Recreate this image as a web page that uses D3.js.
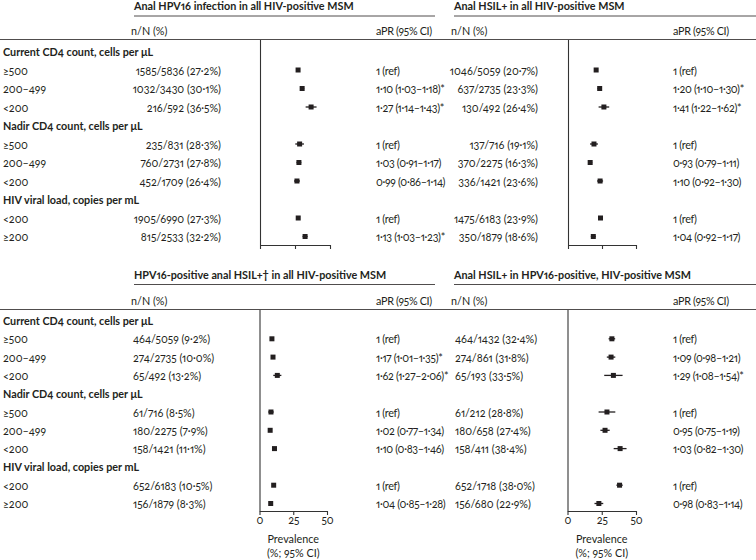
<!DOCTYPE html>
<html><head><meta charset="utf-8">
<script src="https://cdn.jsdelivr.net/npm/d3@7"></script>
<style>
html,body{margin:0;padding:0;background:#fff;overflow:hidden;}
svg{display:block;}
svg text{font-family:Lato,"Open Sans",sans-serif;fill:#231f20;font-size:10.8px;
  font-variant-numeric:oldstyle-nums proportional-nums;font-feature-settings:"onum" 1,"pnum" 1;}
svg text.apr{letter-spacing:-0.3px;}
</style></head><body>
<svg id="chart" width="756" height="560"></svg>
<script>
// ---------- DATA ----------
const groupLabels = ["Current CD4 count, cells per μL", "Nadir CD4 count, cells per μL", "HIV viral load, copies per mL"];
const levelLabels = [["≥500", "200–499", "<200"], ["≥500", "200–499", "<200"], ["<200", "≥200"]];
const xTicks = [0, 25, 50];
const axisTitle = ["Prevalence", "(%; 95% CI)"];
const colHeaders = ["n/N (%)", "aPR (95% CI)"];

const titleA = "Anal HPV16 infection in all HIV-positive MSM";
const nnA = ["1585/5836 (27·2%)", "1032/3430 (30·1%)", "216/592 (36·5%)", "235/831 (28·3%)", "760/2731 (27·8%)", "452/1709 (26·4%)", "1905/6990 (27·3%)", "815/2533 (32·2%)"];
const prevA = [27.2, 30.1, 36.5, 28.3, 27.8, 26.4, 27.3, 32.2];
const loA = [26.1, 28.6, 32.6, 25.2, 26.1, 24.3, 26.3, 30.4];
const hiA = [28.3, 31.6, 40.4, 31.4, 29.5, 28.5, 28.3, 34.0];
const aprA = ["1 (ref)", "1·10 (1·03–1·18)*", "1·27 (1·14–1·43)*", "1 (ref)", "1·03 (0·91–1·17)", "0·99 (0·86–1·14)", "1 (ref)", "1·13 (1·03–1·23)*"];

const titleB = "Anal HSIL+ in all HIV-positive MSM";
const nnB = ["1046/5059 (20·7%)", "637/2735 (23·3%)", "130/492 (26·4%)", "137/716 (19·1%)", "370/2275 (16·3%)", "336/1421 (23·6%)", "1475/6183 (23·9%)", "350/1879 (18·6%)"];
const prevB = [20.7, 23.3, 26.4, 19.1, 16.3, 23.6, 23.9, 18.6];
const loB = [19.6, 21.7, 22.5, 16.2, 14.8, 21.4, 22.8, 16.8];
const hiB = [21.8, 24.9, 30.3, 22.0, 17.8, 25.8, 25.0, 20.4];
const aprB = ["1 (ref)", "1·20 (1·10–1·30)*", "1·41 (1·22–1·62)*", "1 (ref)", "0·93 (0·79–1·11)", "1·10 (0·92–1·30)", "1 (ref)", "1·04 (0·92–1·17)"];

const titleC = "HPV16-positive anal HSIL+† in all HIV-positive MSM";
const nnC = ["464/5059 (9·2%)", "274/2735 (10·0%)", "65/492 (13·2%)", "61/716 (8·5%)", "180/2275 (7·9%)", "158/1421 (11·1%)", "652/6183 (10·5%)", "156/1879 (8·3%)"];
const prevC = [9.2, 10.0, 13.2, 8.5, 7.9, 11.1, 10.5, 8.3];
const loC = [8.4, 8.9, 10.2, 6.5, 6.8, 9.5, 9.7, 7.1];
const hiC = [10.0, 11.1, 16.2, 10.5, 9.0, 12.7, 11.3, 9.5];
const aprC = ["1 (ref)", "1·17 (1·01–1·35)*", "1·62 (1·27–2·06)*", "1 (ref)", "1·02 (0·77–1·34)", "1·10 (0·83–1·46)", "1 (ref)", "1·04 (0·85–1·28)"];

const titleD = "Anal HSIL+ in HPV16-positive, HIV-positive MSM";
const nnD = ["464/1432 (32·4%)", "274/861 (31·8%)", "65/193 (33·5%)", "61/212 (28·8%)", "180/658 (27·4%)", "158/411 (38·4%)", "652/1718 (38·0%)", "156/680 (22·9%)"];
const prevD = [32.4, 31.8, 33.5, 28.8, 27.4, 38.4, 38.0, 22.9];
const loD = [30.0, 28.7, 26.8, 22.7, 24.0, 33.7, 35.7, 19.7];
const hiD = [34.8, 34.9, 40.2, 34.9, 30.8, 43.1, 40.3, 26.1];
const aprD = ["1 (ref)", "1·09 (0·98–1·21)", "1·29 (1·08–1·54)*", "1 (ref)", "0·95 (0·75–1·19)", "1·03 (0·82–1·30)", "1 (ref)", "0·98 (0·83–1·14)"];

// ---------- LAYOUT ----------
const svg = d3.select("#chart");
const ink = "#231f20";

const rowItems = [];
groupLabels.forEach((g, gi) => {
  rowItems.push({type: "header", label: g});
  levelLabels[gi].forEach(l => rowItems.push({type: "level", label: l}));
});
const levelRowIdx = rowItems.map((r, i) => r.type === "level" ? i : -1).filter(i => i >= 0);

const blocks = [
  {titleY: 5.5, titleLineY: 16, headerY: 30.5, ruleY: 39.5, rows: [51.5, 236.5], axisY: 245, showTickLabels: false},
  {titleY: 274.5, titleLineY: 284.5, headerY: 300.5, ruleY: 309.5, rows: [320.5, 503.5], axisY: 511, showTickLabels: true}
];

const panels = [
  {block: 0, title: titleA, nn: nnA, prev: prevA, lo: loA, hi: hiA, apr: aprA, left: 134, lineEnd: 435, nnX: 221, nnAnchor: "end", aprX: 376, xr: [260, 330]},
  {block: 0, title: titleB, nn: nnB, prev: prevB, lo: loB, hi: hiB, apr: aprB, left: 454, lineEnd: 756, nnX: 538, nnAnchor: "end", aprX: 673, xr: [568, 636]},
  {block: 1, title: titleC, nn: nnC, prev: prevC, lo: loC, hi: hiC, apr: aprC, left: 134, lineEnd: 435, nnX: 133, nnAnchor: "start", aprX: 376, xr: [259.5, 327]},
  {block: 1, title: titleD, nn: nnD, prev: prevD, lo: loD, hi: hiD, apr: aprD, left: 454, lineEnd: 756, nnX: 455, nnAnchor: "start", aprX: 673, xr: [567.5, 636]}
];

blocks.forEach(b => {
  const y = d3.scalePoint().domain(d3.range(rowItems.length)).range(b.rows);
  b.y = y;
  svg.append("line").attr("x1", 0).attr("x2", 756).attr("y1", b.ruleY).attr("y2", b.ruleY)
    .attr("stroke", ink).attr("stroke-width", 0.8);
  svg.append("g").selectAll("text").data(rowItems).join("text")
    .attr("x", 3).attr("y", (d, i) => y(i)).attr("dominant-baseline", "central")
    .style("font-weight", d => d.type === "header" ? "bold" : "normal")
    .text(d => d.label);
});

panels.forEach(p => {
  const b = blocks[p.block];
  const y = b.y;
  const g = svg.append("g");
  g.append("text").attr("x", p.left).attr("y", b.titleY).attr("dominant-baseline", "central")
    .style("font-weight", "bold").text(p.title);
  g.append("line").attr("x1", p.left).attr("x2", p.lineEnd).attr("y1", b.titleLineY).attr("y2", b.titleLineY)
    .attr("stroke", ink).attr("stroke-width", 0.8);
  g.append("text").attr("x", p.left - 3).attr("y", b.headerY).attr("dominant-baseline", "central").text(colHeaders[0]);
  g.append("text").attr("class", "apr").attr("x", p.aprX).attr("y", b.headerY).attr("dominant-baseline", "central").text(colHeaders[1]);

  const x = d3.scaleLinear().domain([0, 50]).range(p.xr);

  const yAxisScale = d3.scaleLinear().domain([0, 1]).range([b.ruleY, b.axisY]);
  g.append("g").attr("transform", `translate(${p.xr[0]},0)`)
    .call(d3.axisLeft(yAxisScale).tickValues([]).tickSizeOuter(0))
    .call(s => s.select(".domain").attr("stroke", "#333").attr("stroke-width", 1.1));

  const ax = g.append("g").attr("transform", `translate(0,${b.axisY})`)
    .call(d3.axisBottom(x).tickValues(xTicks).tickSize(4).tickSizeOuter(0).tickFormat(d3.format("d")));
  ax.attr("font-family", null).attr("font-size", null);
  ax.select(".domain").attr("stroke", "#333").attr("stroke-width", 1.1);
  ax.selectAll(".tick line").attr("stroke", "#333").attr("stroke-width", 1.1);
  ax.selectAll(".tick text").attr("y", 5.5).attr("fill", ink);
  if (!b.showTickLabels) ax.selectAll(".tick text").remove();
  else {
    const cx = (p.xr[0] + p.xr[1]) / 2;
    g.append("text").attr("x", cx).attr("y", 538.5).attr("text-anchor", "middle").attr("dominant-baseline", "central").text(axisTitle[0]);
    g.append("text").attr("x", cx).attr("y", 552).attr("text-anchor", "middle").attr("dominant-baseline", "central").text(axisTitle[1]);
  }

  const rows = p.prev.map((v, i) => ({prev: v, lo: p.lo[i], hi: p.hi[i], nn: p.nn[i], apr: p.apr[i], yi: y(levelRowIdx[i])}));

  g.append("g").selectAll("text").data(rows).join("text")
    .attr("x", p.nnX).attr("y", d => d.yi).attr("text-anchor", p.nnAnchor).attr("dominant-baseline", "central")
    .text(d => d.nn);
  g.append("g").selectAll("text").data(rows).join("text")
    .attr("class", "apr")
    .attr("x", p.aprX).attr("y", d => d.yi).attr("dominant-baseline", "central")
    .text(d => d.apr);

  g.append("g").selectAll("line").data(rows).join("line")
    .attr("x1", d => x(d.lo)).attr("x2", d => x(d.hi)).attr("y1", d => d.yi).attr("y2", d => d.yi)
    .attr("stroke", ink).attr("stroke-width", 1.3);
  const s = 5;
  g.append("g").selectAll("rect").data(rows).join("rect")
    .attr("x", d => x(d.prev) - s / 2).attr("y", d => d.yi - s / 2).attr("width", s).attr("height", s)
    .attr("fill", ink);
});
</script>
</body></html>
